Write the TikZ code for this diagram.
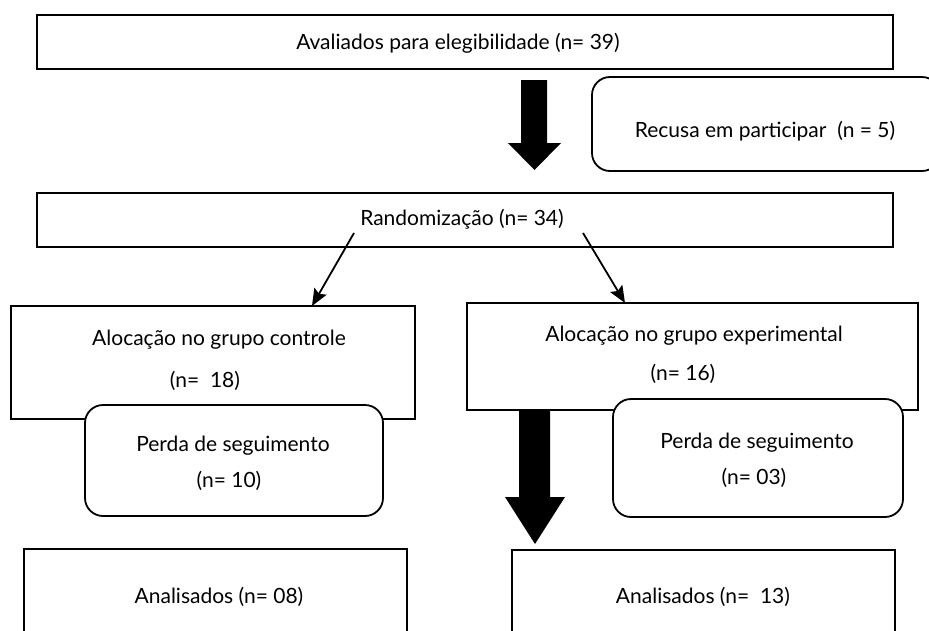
\documentclass[tikz,border=0pt]{standalone}
\usepackage{fontspec}
\setmainfont{Lato}
\usetikzlibrary{arrows.meta}
\begin{document}
\begin{tikzpicture}[x=1pt,y=-1pt,
  box/.style={draw, line width=1.8pt, inner sep=0pt, fill=white},
  rbox/.style={box, rounded corners=18pt},
  lbl/.style={font=\fontsize{21}{25}\selectfont, inner sep=0pt},
  thinarrow/.style={line width=1.8pt, -{Stealth[length=17pt,width=14pt,inset=3pt]}},
  blockarrow/.style={fill=black}]
\useasboundingbox (0,0) rectangle (929,630);
\clip (0,0) rectangle (929,630);
\fill[white] (0,0) rectangle (929,630);
% boxes
\node[box, minimum width=856pt, minimum height=54pt] (top) at (465,42) {};
\node[rbox, minimum width=348pt, minimum height=94pt] (recusa) at (766,124) {};
\node[box, minimum width=856pt, minimum height=54pt] (rando) at (465,220) {};
\node[box, minimum width=404pt, minimum height=113pt] (lalloc) at (213,362.5) {};
\node[box, minimum width=451pt, minimum height=107pt] (ralloc) at (692.5,356.5) {};
\node[rbox, minimum width=298pt, minimum height=111pt] (lperda) at (234,460.5) {};
\node[rbox, minimum width=290pt, minimum height=118pt] (rperda) at (758,458) {};
\node[box, minimum width=383pt, minimum height=102pt] (lanal) at (215.5,600) {};
\node[box, minimum width=383pt, minimum height=102pt] (ranal) at (703.5,601) {};
% texts
\node[lbl] (t1) at (458,43) {Avaliados para elegibilidade (n= 39)};
\node[lbl] (t2) at (765,131) {Recusa em participar~~(n = 5)};
\node[lbl] (t3) at (462,219) {Randomização (n= 34)};
\node[lbl] (t4) at (219,340) {Alocação no grupo controle};
\node[lbl] (t5) at (205,381) {(n=~ 18)};
\node[lbl] (t6) at (694,336) {Alocação no grupo experimental};
\node[lbl] (t7) at (683,374) {(n= 16)};
\node[lbl] (t8) at (233,446) {Perda de seguimento};
\node[lbl] (t9) at (229,481) {(n= 10)};
\node[lbl] (t10) at (757,443) {Perda de seguimento};
\node[lbl] (t11) at (754,478) {(n= 03)};
\node[lbl] (t12) at (219,597) {Analisados (n= 08)};
\node[lbl] (t13) at (703,597) {Analisados (n=~ 13)};
% thin arrows
\coordinate (a1s) at (354,233);
\coordinate (a1e) at (312,306);
\coordinate (a2s) at (583,233);
\coordinate (a2e) at (625,303);
\draw[thinarrow] (a1s) -- (a1e);
\draw[thinarrow] (a2s) -- (a2e);
% block arrows
\fill[blockarrow] (521,80) -- (547,80) -- (547,143) -- (561,143) -- (534.5,170) -- (508,143) -- (521,143) -- cycle;
\fill[blockarrow] (519,410) -- (550,410) -- (550,497) -- (565,497) -- (535,544) -- (505,497) -- (519,497) -- cycle;
\end{tikzpicture}
\end{document}
